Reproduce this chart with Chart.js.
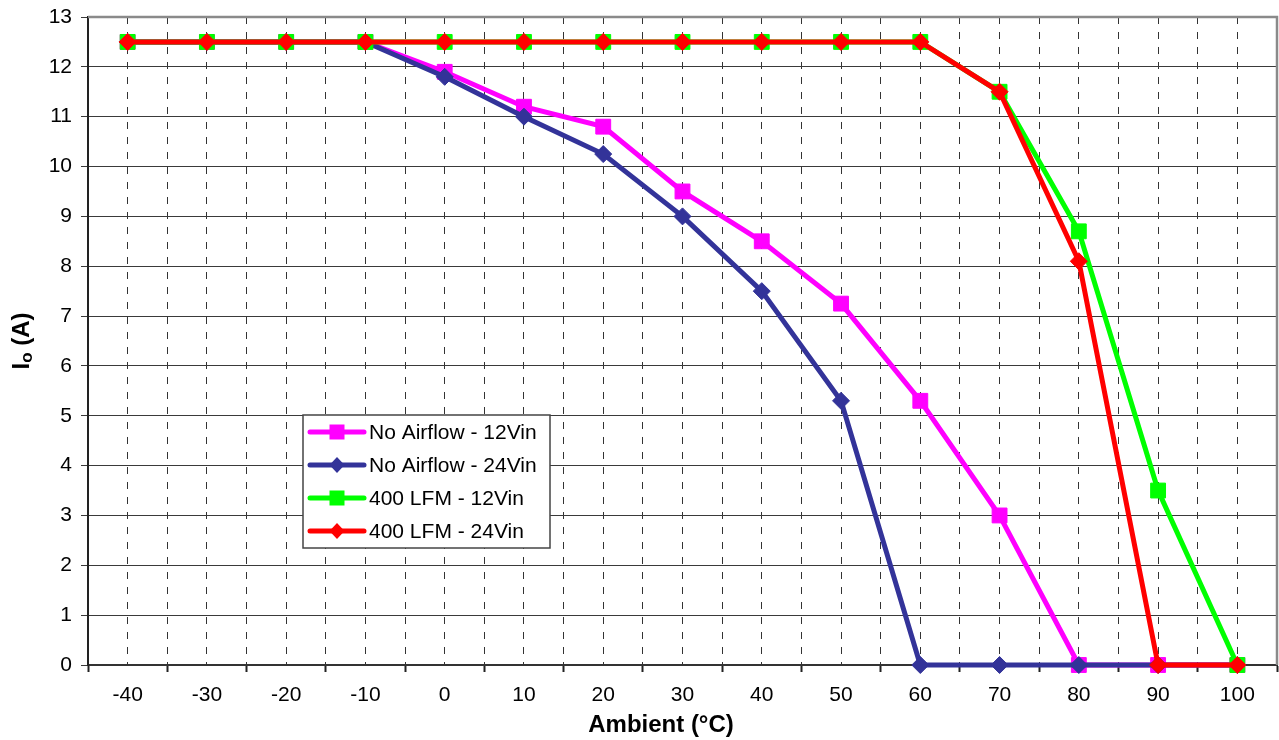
<!DOCTYPE html>
<html>
<head>
<meta charset="utf-8">
<script src="https://cdn.jsdelivr.net/npm/chart.js@4/dist/chart.umd.min.js"></script>
<style>
html,body{margin:0;padding:0;background:#fff;}
#wrap{width:1279px;height:740px;position:relative;}
</style>
</head>
<body>
<div id="wrap"><canvas id="c" width="1279" height="740"></canvas></div>
<script>
// ---- data ----
const temps      = [-40,-30,-20,-10,0,10,20,30,40,50,60,70,80,90,100];
const noAir12Vin = [12.5,12.5,12.5,12.5,11.9,11.2,10.8,9.5,8.5,7.25,5.3,3.0,0,0,0];
const noAir24Vin = [12.5,12.5,12.5,12.5,11.8,11.0,10.25,9.0,7.5,5.3,0,0,0,0,0];
const lfm12Vin   = [12.5,12.5,12.5,12.5,12.5,12.5,12.5,12.5,12.5,12.5,12.5,11.5,8.7,3.5,0];
const lfm24Vin   = [12.5,12.5,12.5,12.5,12.5,12.5,12.5,12.5,12.5,12.5,12.5,11.5,8.1,0,0];
const seriesLabels = ['No Airflow - 12Vin','No Airflow - 24Vin','400 LFM - 12Vin','400 LFM - 24Vin'];
const xTickLabels = temps;
const yTickLabels = [0,1,2,3,4,5,6,7,8,9,10,11,12,13];
const xTitle = 'Ambient (°C)';

const FONT = '"Liberation Sans", Arial, Helvetica, sans-serif';
Chart.defaults.font.family = FONT;
Chart.defaults.color = '#000';

const pts = arr => temps.map((t,i)=>({x:t, y:arr[i]}));

function mkDs(label, arr, color, style, order){
  const isSq = style === 'rect';
  return {
    label, data: pts(arr), order,
    borderColor: color, backgroundColor: color,
    pointBackgroundColor: color, pointBorderColor: color,
    borderWidth: 5, tension: 0,
    pointStyle: style,
    pointRadius: isSq ? 10.5 : 8.5,
    pointHoverRadius: isSq ? 10.5 : 8.5,
    pointBorderWidth: 1,
    clip: false
  };
}

const frame = {
  id: 'frame',
  beforeDatasetsDraw(chart){
    const {ctx, chartArea:a} = chart;
    ctx.save();
    ctx.strokeStyle = '#8a8a8a';
    ctx.lineWidth = 2.5;
    ctx.beginPath();
    ctx.moveTo(a.left, a.top);
    ctx.lineTo(a.right, a.top);
    ctx.lineTo(a.right, a.bottom);
    ctx.stroke();
    ctx.restore();
  },
  afterDraw(chart){
    const {ctx, chartArea:a} = chart;
    ctx.save();
    // y title with subscript
    ctx.translate(22, (a.top + a.bottom) / 2);
    ctx.rotate(-Math.PI/2);
    ctx.fillStyle = '#000';
    ctx.textBaseline = 'middle';
    ctx.textAlign = 'left';
    const big = 'bold 24px ' + FONT, small = 'bold 17px ' + FONT;
    ctx.font = big; const wI = ctx.measureText('I').width;
    const wR = ctx.measureText(' (A)').width;
    ctx.font = small; const wo = ctx.measureText('o').width;
    let x = -(wI + wo + wR) / 2;
    ctx.font = big; ctx.fillText('I', x, 0); x += wI;
    ctx.font = small; ctx.fillText('o', x, 5); x += wo;
    ctx.font = big; ctx.fillText(' (A)', x, 0);
    ctx.restore();

    // x title
    ctx.save();
    ctx.font = 'bold 24px ' + FONT;
    ctx.fillStyle = '#000';
    ctx.textAlign = 'center';
    ctx.textBaseline = 'middle';
    ctx.fillText(xTitle, a.left + 573, 725);
    ctx.restore();

    // legend box
    const x0 = a.left + 215, y0 = a.top + 398, w = 247, h = 133;
    ctx.save();
    ctx.fillStyle = '#fff';
    ctx.fillRect(x0, y0, w, h);
    ctx.strokeStyle = '#444';
    ctx.lineWidth = 1.5;
    ctx.strokeRect(x0, y0, w, h);
    chart.data.datasets.forEach((ds, i) => {
      const cy = y0 + 17 + i * 33;
      const cx = x0 + 34;
      ctx.strokeStyle = ds.borderColor;
      ctx.fillStyle = ds.borderColor;
      ctx.lineWidth = 5;
      ctx.lineCap = 'round';
      ctx.beginPath(); ctx.moveTo(x0 + 7, cy); ctx.lineTo(x0 + 61, cy); ctx.stroke();
      ctx.lineCap = 'butt';
      ctx.beginPath();
      if (ds.pointStyle === 'rect') {
        ctx.rect(cx - 7.5, cy - 7.5, 15, 15);
      } else {
        ctx.moveTo(cx, cy - 8); ctx.lineTo(cx + 7.5, cy); ctx.lineTo(cx, cy + 8); ctx.lineTo(cx - 7.5, cy); ctx.closePath();
      }
      ctx.fill();
      ctx.fillStyle = '#000';
      ctx.font = '21px ' + FONT;
      ctx.textAlign = 'left';
      ctx.textBaseline = 'middle';
      ctx.fillText(ds.label, x0 + 66, cy + 1);
    });
    ctx.restore();
  }
};

new Chart(document.getElementById('c'), {
  type: 'line',
  data: {
    datasets: [
      mkDs(seriesLabels[0], noAir12Vin, '#FF00FF', 'rect', 3),
      mkDs(seriesLabels[1], noAir24Vin, '#333399', 'rectRot', 2),
      mkDs(seriesLabels[2], lfm12Vin, '#00FF00', 'rect', 1),
      mkDs(seriesLabels[3], lfm24Vin, '#FF0000', 'rectRot', 0)
    ]
  },
  options: {
    responsive: false,
    animation: false,
    devicePixelRatio: 1,
    layout: { autoPadding: false, padding: { top: 17, right: 2, left: 0, bottom: 0 } },
    plugins: { legend: { display: false }, tooltip: { enabled: false } },
    events: [],
    scales: {
      x: {
        type: 'linear',
        min: -45, max: 105,
        afterFit: s => { s.height = 75; s.paddingLeft = 0; s.paddingRight = 0; },
        ticks: {
          stepSize: 5, autoSkip: false, maxRotation: 0, padding: 11,
          font: { size: 21 }, color: '#000',
          callback: v => xTickLabels.includes(v) ? String(v) : ''
        },
        grid: {
          lineWidth: 1,
          color: c => (c.tick && (c.tick.value === -45 || c.tick.value === 105)) ? 'rgba(0,0,0,0)' : '#333',
          tickColor: c => (c.tick && Math.abs(c.tick.value) % 10 === 5) ? '#222' : 'rgba(0,0,0,0)',
          tickLength: 7,
          tickWidth: 2
        },
        border: { display: true, color: '#333', width: 2, dash: [7, 8] }
      },
      y: {
        type: 'linear',
        min: 0, max: 13,
        afterFit: s => { s.width = 88; s.paddingTop = 0; s.paddingBottom = 0; },
        ticks: {
          stepSize: 1, autoSkip: false, padding: 9,
          font: { size: 21 }, color: '#000',
          callback: v => yTickLabels.includes(v) ? String(v) : ''
        },
        grid: { color: '#3a3a3a', lineWidth: 1, tickLength: 7 },
        border: { display: true, color: '#222', width: 2 }
      }
    }
  },
  plugins: [frame]
});
</script>
</body>
</html>
